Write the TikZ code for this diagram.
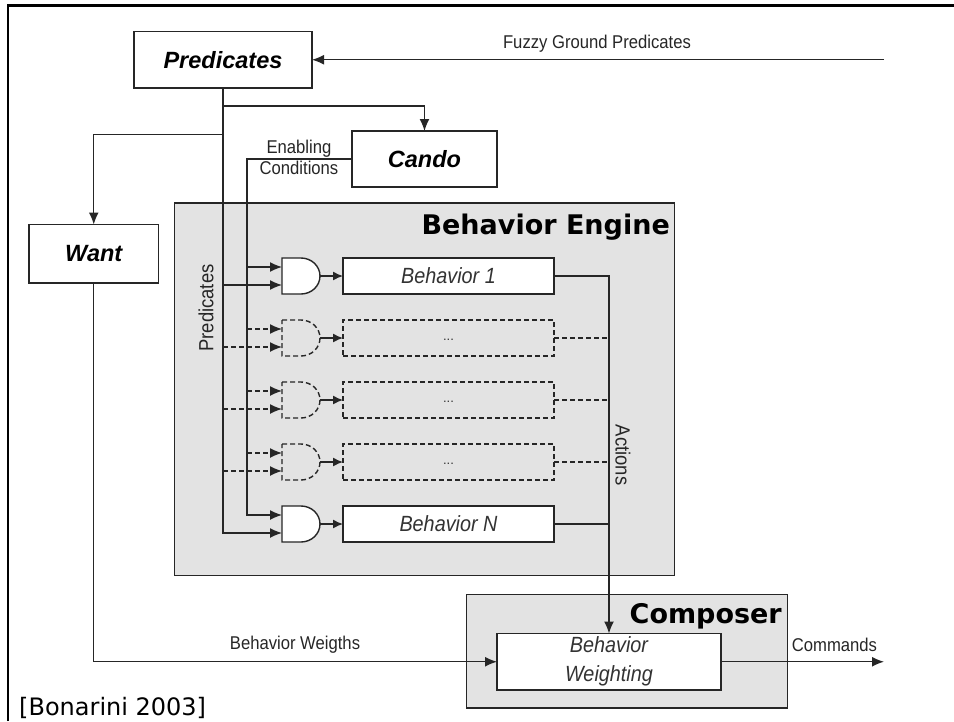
\documentclass[tikz,border=0pt]{standalone}
\usepackage{fontspec}
\setmainfont{Liberation Sans}
\newfontfamily\headfont{DejaVu Sans}
\newfontfamily\tallfont[FakeStretch=0.9]{Liberation Sans}
\usetikzlibrary{positioning}
\usetikzlibrary{calc}
\usetikzlibrary{arrows.meta}

% and-gate outline round a named node
\newcommand{\gateline}[2]{
    \draw[linecol, #2] (#1.north west) -- (#1.north) arc[start angle=90, end angle=-90, x radius=19pt, y radius=18pt] -- (#1.south west) -- cycle;
}

\begin{document}
\begin{tikzpicture}[
x=1pt, y=-1pt,
linecol/.style={draw=black!85, line width=1.4pt},
topbox/.style={
    rectangle,
    linecol,
    fill=white,
    font=\fontsize{23.5}{28}\selectfont\bfseries\itshape,
    inner sep=0pt, % No inner spacing
    outer sep=0pt, % No outer spacing
},
panelbox/.style={rectangle, linecol, fill=black!11, inner sep=0pt, outer sep=0pt},
behbox/.style={
    rectangle,
    linecol,
    fill=white,
    minimum width=211pt,
    minimum height=36pt,
    font=\tallfont\fontsize{22}{29}\selectfont\itshape,
    text=black!80,
    inner sep=0pt,
    outer sep=0pt,
},
dashstyle/.style={dash pattern=on 5pt off 3pt},
dashbox/.style={behbox, dashstyle, fill=none, font=\fontsize{13}{15}\selectfont},
gatebox/.style={
    rectangle,
    minimum width=38pt,
    minimum height=36pt,
    inner sep=0pt,
    outer sep=0pt,
},
arrow/.style={linecol, -{Latex[length=12pt,width=10pt]}},
smallarrow/.style={linecol, -{Latex[length=10pt,width=9pt]}},
plain/.style={linecol},
dashline/.style={linecol, dashstyle},
lab/.style={font=\tallfont\fontsize{18.5}{21}\selectfont, text=black!85, inner sep=0pt, align=center},
head/.style={font=\fontsize{27}{32}\selectfont\headfont\bfseries, inner sep=0pt, anchor=east},
]

\useasboundingbox (0,0) rectangle (954,721);

% frame, only top and left
\draw[line width=2.4pt] (8,721) -- (8,5.5) -- (954,5.5);

\node[panelbox, minimum width=500pt, minimum height=372.5pt] (Engine) at (424.5,389.25) {};
\node[panelbox, minimum width=321pt, minimum height=113.5pt] (Composer) at (627,651.25) {};

\node[topbox, minimum width=178pt, minimum height=56.5pt] (Predicates) at (223,59.75) {Predicates};
\node[topbox, minimum width=145pt, minimum height=56pt] (Cando) at (424.5,159) {Cando};
\node[topbox, minimum width=129.5pt, minimum height=58.5pt] (Want) at (93.75,253.75) {Want};

\node[gatebox] (G1) at (301,276) {};
\node[gatebox] (G2) at (301,338) {};
\node[gatebox] (G3) at (301,400) {};
\node[gatebox] (G4) at (301,462) {};
\node[gatebox] (G5) at (301,524) {};

\gateline{G1}{fill=white}
\gateline{G2}{dashstyle}
\gateline{G3}{dashstyle}
\gateline{G4}{dashstyle}
\gateline{G5}{fill=white}

\coordinate (G1a) at ($(G1.west)+(0,-9)$);
\coordinate (G1b) at ($(G1.west)+(0,9)$);
\coordinate (G2a) at ($(G2.west)+(0,-9)$);
\coordinate (G2b) at ($(G2.west)+(0,9)$);
\coordinate (G3a) at ($(G3.west)+(0,-9)$);
\coordinate (G3b) at ($(G3.west)+(0,9)$);
\coordinate (G4a) at ($(G4.west)+(0,-9)$);
\coordinate (G4b) at ($(G4.west)+(0,9)$);
\coordinate (G5a) at ($(G5.west)+(0,-9)$);
\coordinate (G5b) at ($(G5.west)+(0,9)$);

\node[behbox] (B1) at (448.5,276) {Behavior 1};
\node[dashbox] (B2) at (448.5,338) {\raisebox{-4pt}{...}};
\node[dashbox] (B3) at (448.5,400) {\raisebox{-4pt}{...}};
\node[dashbox] (B4) at (448.5,462) {\raisebox{-4pt}{...}};
\node[behbox] (B5) at (448.5,524) {Behavior N};

\node[behbox, minimum width=224pt, minimum height=56.5pt, align=center] (Weighting) at (609,661.75) {Behavior\\Weighting};

\coordinate (CandoTap) at (223,106);
\coordinate (WantTap) at (223,134.5);
\coordinate (EnableBus) at (247,159);
\coordinate (FuzzyStart) at (884,59.75);
\coordinate (CommandsEnd) at (884,661.75);

% top connectors
\draw[arrow] (FuzzyStart) -- (Predicates.east);
\draw[arrow] (CandoTap) -| (Cando.north);
\draw[arrow] (WantTap) -| (Want.north);
\draw[arrow] (Want.south) |- (Weighting.west);
\draw[arrow] (Weighting.east) -- (CommandsEnd);

% predicates bus
\draw[arrow] (Predicates.south) |- (G5b);
\draw[arrow] (G1b -| Predicates.south) -- (G1b);
\draw[arrow, dashstyle] (G2b -| Predicates.south) -- (G2b);
\draw[arrow, dashstyle] (G3b -| Predicates.south) -- (G3b);
\draw[arrow, dashstyle] (G4b -| Predicates.south) -- (G4b);

% enabling conditions bus
\draw[arrow] (Cando.west) -- (EnableBus) |- (G5a);
\draw[arrow] (G1a -| EnableBus) -- (G1a);
\draw[arrow, dashstyle] (G2a -| EnableBus) -- (G2a);
\draw[arrow, dashstyle] (G3a -| EnableBus) -- (G3a);
\draw[arrow, dashstyle] (G4a -| EnableBus) -- (G4a);

% gate to behavior
\draw[smallarrow] (G1.east) -- (B1.west);
\draw[smallarrow] (G2.east) -- (B2.west);
\draw[smallarrow] (G3.east) -- (B3.west);
\draw[smallarrow] (G4.east) -- (B4.west);
\draw[smallarrow] (G5.east) -- (B5.west);

% actions bus
\draw[arrow] (B1.east) -| (Weighting.north);
\draw[dashline] (B2.east) -- (B2.east -| Weighting.north);
\draw[dashline] (B3.east) -- (B3.east -| Weighting.north);
\draw[dashline] (B4.east) -- (B4.east -| Weighting.north);
\draw[plain] (B5.east) -- (B5.east -| Weighting.north);

% labels
\node[lab] (FuzzyLab) at (597,44) {Fuzzy Ground Predicates};
\node[lab] (EnableLab) at (299,157) {Enabling\\Conditions};
\node[lab] (WeightsLab) at (295,645) {Behavior Weigths};
\node[lab] (CommandsLab) at (834.5,645) {Commands};
\node[lab, font=\tallfont\fontsize{20.5}{22}\selectfont, rotate=90] (PredLab) at (206,308) {Predicates};
\node[lab, font=\tallfont\fontsize{20.5}{22}\selectfont, rotate=-90] (ActionsLab) at (623,455) {Actions};
\node[head] (EngineLab) at (670,227) {Behavior Engine};
\node[head] (ComposerLab) at (782,616) {Composer};
\node[font=\fontsize{24}{28}\selectfont\headfont, inner sep=0pt, anchor=west] (CiteLab) at (19,708) {[Bonarini 2003]};

\end{tikzpicture}
\end{document}
